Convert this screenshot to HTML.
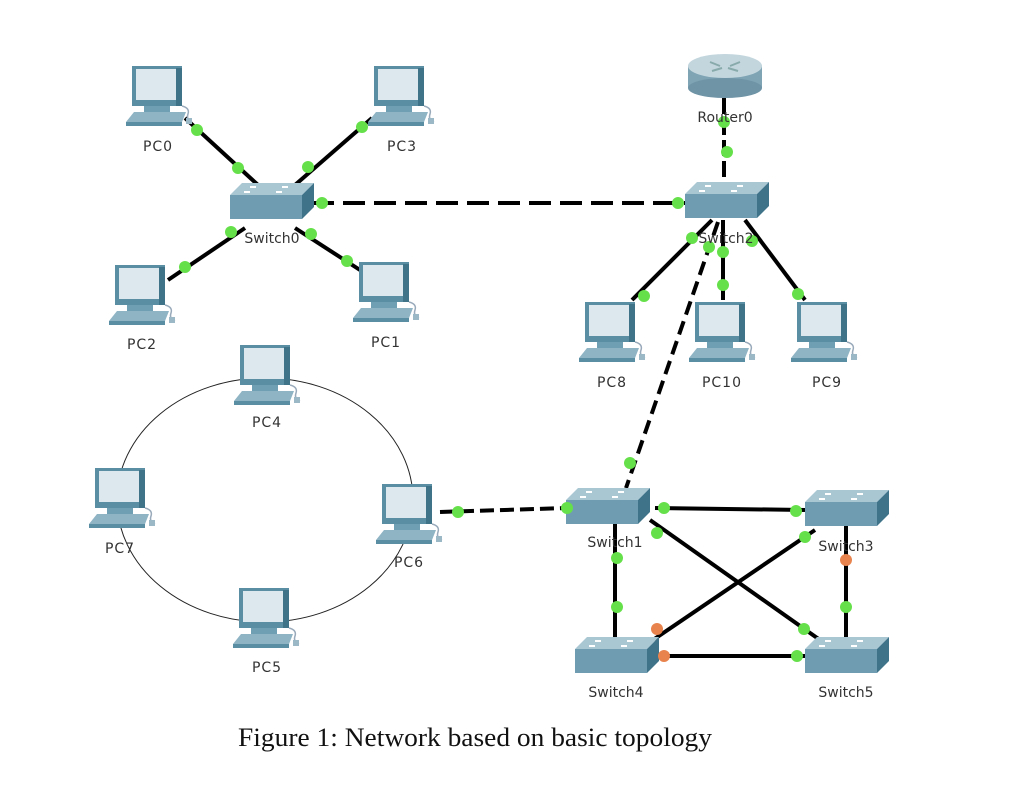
<!DOCTYPE html>
<html><head><meta charset="utf-8"><style>
html,body{margin:0;padding:0;background:#fff;}
svg{display:block;}
text{font-family:"DejaVu Sans","Liberation Sans",sans-serif;font-size:14px;fill:#333;text-anchor:middle;letter-spacing:1px;}
.cap{font-family:"Liberation Serif",serif;font-size:26px;fill:#111;letter-spacing:0;}
</style></head><body>
<svg width="1024" height="793" viewBox="0 0 1024 793" xmlns="http://www.w3.org/2000/svg">
<defs>
<g id="pc">
  <rect x="2" y="0" width="50" height="40" fill="#5a8fa3"/>
  <rect x="6" y="3" width="40" height="31" fill="#dde8ee"/>
  <rect x="46" y="2" width="6" height="38" fill="#3f7488"/>
  <rect x="14" y="40" width="26" height="6" fill="#6e9fb2"/>
  <polygon points="-4,56 4,46 56,46 52,56" fill="#8fb4c4"/>
  <rect x="-4" y="56" width="56" height="4" fill="#5a8fa3"/>
  <path d="M52 40 q8 2 6 8 q-2 6 4 8" stroke="#9ab" fill="none" stroke-width="1.5"/>
  <rect x="56" y="52" width="6" height="6" fill="#9bb8c6"/>
</g>
<g id="sw">
  <polygon points="0,12 12,0 84,0 72,12" fill="#a9c6d3"/>
  <rect x="0" y="12" width="72" height="24" fill="#6f9cb0"/>
  <polygon points="72,12 84,0 84,24 72,36" fill="#3e7389"/>
  <rect x="20" y="3" width="6" height="2" fill="#fff"/><rect x="52" y="3" width="6" height="2" fill="#fff"/>
  <rect x="14" y="8" width="6" height="2" fill="#fff"/><rect x="46" y="8" width="6" height="2" fill="#fff"/>
</g>
</defs>

<ellipse cx="265" cy="500" rx="148" ry="122" fill="none" stroke="#222" stroke-width="1"/>

<g stroke="#000" stroke-width="4" fill="none">
  <line x1="185" y1="118" x2="258" y2="185"/>
  <line x1="372" y1="118" x2="295" y2="185"/>
  <line x1="168" y1="280" x2="245" y2="228"/>
  <line x1="360" y1="270" x2="295" y2="228"/>
  <line x1="312" y1="203" x2="685" y2="203" stroke-dasharray="22,9"/>
  <line x1="724" y1="98" x2="724" y2="182" stroke-dasharray="16,5"/>
  <line x1="712" y1="220" x2="632" y2="300"/>
  <line x1="723" y1="220" x2="723" y2="300"/>
  <line x1="745" y1="220" x2="805" y2="300"/>
  <line x1="718" y1="222" x2="626" y2="488" stroke-dasharray="14,7"/>
  <line x1="440" y1="512" x2="567" y2="508" stroke-dasharray="14,6"/>
  <line x1="655" y1="508" x2="805" y2="510"/>
  <line x1="650" y1="520" x2="820" y2="640"/>
  <line x1="815" y1="530" x2="650" y2="642"/>
  <line x1="615" y1="520" x2="615" y2="640"/>
  <line x1="846" y1="526" x2="846" y2="640"/>
  <line x1="655" y1="656" x2="805" y2="656"/>
</g>

<use href="#pc" x="130" y="66"/>
<use href="#pc" x="372" y="66"/>
<use href="#pc" x="113" y="265"/>
<use href="#pc" x="357" y="262"/>
<use href="#pc" x="238" y="345"/>
<use href="#pc" x="93" y="468"/>
<use href="#pc" x="380" y="484"/>
<use href="#pc" x="237" y="588"/>
<use href="#pc" x="583" y="302"/>
<use href="#pc" x="693" y="302"/>
<use href="#pc" x="795" y="302"/>

<use href="#sw" x="230" y="183"/>
<use href="#sw" x="685" y="182"/>
<use href="#sw" x="566" y="488"/>
<use href="#sw" x="805" y="490"/>
<use href="#sw" x="575" y="637"/>
<use href="#sw" x="805" y="637"/>

<rect x="688" y="66" width="74" height="22" fill="#7fa4b4"/>
<ellipse cx="725" cy="88" rx="37" ry="10" fill="#6f94a6"/>
<ellipse cx="725" cy="66" rx="37" ry="12" fill="#c3d6de"/>
<path d="M710 62 l10 4 M740 62 l-10 4 M712 71 l10 -3 M738 71 l-10 -3" stroke="#8aa" stroke-width="2"/>

<g fill="#66e04a">
  <circle cx="197" cy="130" r="6"/><circle cx="238" cy="168" r="6"/>
  <circle cx="362" cy="127" r="6"/><circle cx="308" cy="167" r="6"/>
  <circle cx="185" cy="267" r="6"/><circle cx="231" cy="232" r="6"/>
  <circle cx="347" cy="261" r="6"/><circle cx="311" cy="234" r="6"/>
  <circle cx="322" cy="203" r="6"/><circle cx="678" cy="203" r="6"/>
  <circle cx="724" cy="122" r="6"/><circle cx="727" cy="152" r="6"/>
  <circle cx="692" cy="238" r="6"/><circle cx="709" cy="247" r="6"/><circle cx="723" cy="252" r="6"/><circle cx="752" cy="241" r="6"/>
  <circle cx="644" cy="296" r="6"/><circle cx="723" cy="285" r="6"/><circle cx="798" cy="294" r="6"/>
  <circle cx="630" cy="463" r="6"/>
  <circle cx="458" cy="512" r="6"/><circle cx="567" cy="508" r="6"/>
  <circle cx="664" cy="508" r="6"/><circle cx="796" cy="511" r="6"/>
  <circle cx="657" cy="533" r="6"/><circle cx="805" cy="537" r="6"/>
  <circle cx="617" cy="558" r="6"/><circle cx="617" cy="607" r="6"/>
  <circle cx="846" cy="607" r="6"/><circle cx="804" cy="629" r="6"/><circle cx="797" cy="656" r="6"/>
</g>
<g fill="#e8834e">
  <circle cx="846" cy="560" r="6"/><circle cx="657" cy="629" r="6"/><circle cx="664" cy="656" r="6"/>
</g>

<text x="158" y="151">PC0</text>
<text x="402" y="151">PC3</text>
<text x="142" y="349">PC2</text>
<text x="386" y="347">PC1</text>
<text x="267" y="427">PC4</text>
<text x="120" y="553">PC7</text>
<text x="409" y="567">PC6</text>
<text x="267" y="672">PC5</text>
<text x="612" y="387">PC8</text>
<text x="722" y="387">PC10</text>
<text x="827" y="387">PC9</text>
<text x="272" y="243" style="letter-spacing:0">Switch0</text>
<text x="726" y="243" style="letter-spacing:0">Switch2</text>
<text x="615" y="547" style="letter-spacing:0">Switch1</text>
<text x="846" y="551" style="letter-spacing:0">Switch3</text>
<text x="616" y="697" style="letter-spacing:0">Switch4</text>
<text x="846" y="697" style="letter-spacing:0">Switch5</text>
<text x="725" y="122" style="letter-spacing:0">Router0</text>

<text class="cap" x="475" y="746" textLength="474" lengthAdjust="spacingAndGlyphs">Figure 1: Network based on basic topology</text>
</svg>
</body></html>
